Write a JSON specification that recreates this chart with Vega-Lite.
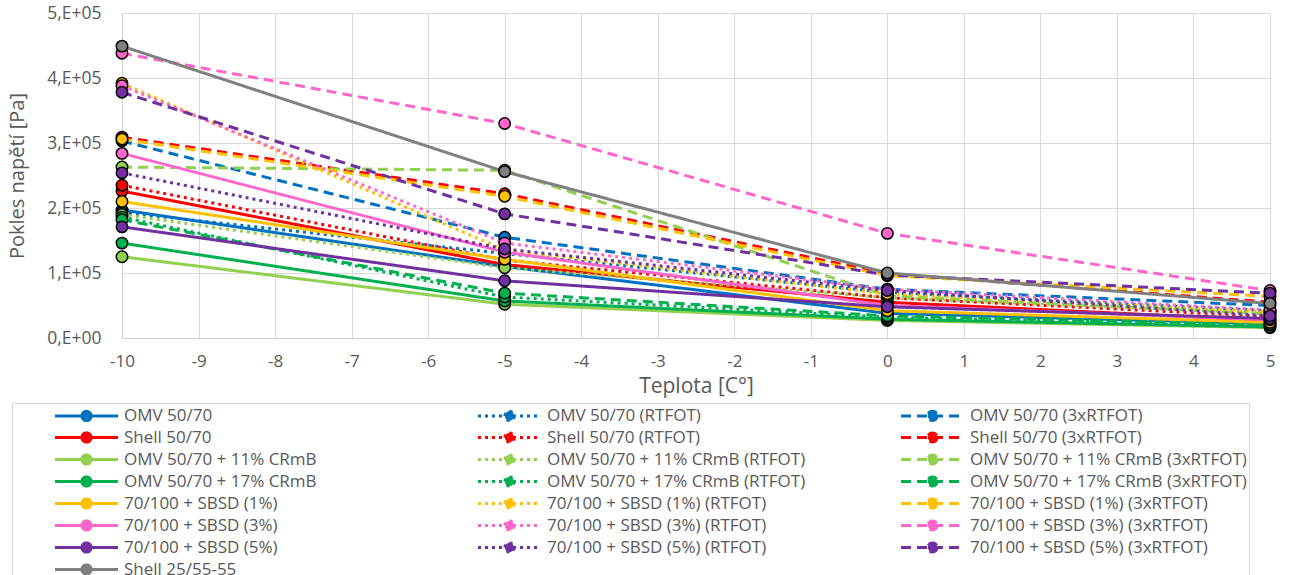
{
  "$schema": "https://vega.github.io/schema/vega-lite/v6.json",
  "width": 1148,
  "height": 325,
  "autosize": {"type": "none"},
  "padding": {"left": 122, "top": 13, "right": 21, "bottom": 237},
  "background": "white",
  "config": {
    "view": {"stroke": null},
    "font": "Open Sans",
    "axis": {"labelColor": "#595959", "titleColor": "#595959", "labelFont": "Open Sans", "titleFont": "Open Sans", "titleFontWeight": "normal", "gridColor": "#d9d9d9", "domainColor": "#d0d0d0", "ticks": false}
  },
  "data": {"values": [
    {"s": "OMV 50/70", "t": -10, "v": 197000}, {"s": "OMV 50/70", "t": -5, "v": 110000}, {"s": "OMV 50/70", "t": 0, "v": 38000}, {"s": "OMV 50/70", "t": 5, "v": 22000},
    {"s": "OMV 50/70 (RTFOT)", "t": -10, "v": 193000}, {"s": "OMV 50/70 (RTFOT)", "t": -5, "v": 130000}, {"s": "OMV 50/70 (RTFOT)", "t": 0, "v": 70000}, {"s": "OMV 50/70 (RTFOT)", "t": 5, "v": 42000},
    {"s": "OMV 50/70 (3xRTFOT)", "t": -10, "v": 303000}, {"s": "OMV 50/70 (3xRTFOT)", "t": -5, "v": 155000}, {"s": "OMV 50/70 (3xRTFOT)", "t": 0, "v": 75000}, {"s": "OMV 50/70 (3xRTFOT)", "t": 5, "v": 50000},
    {"s": "Shell 50/70", "t": -10, "v": 226000}, {"s": "Shell 50/70", "t": -5, "v": 113000}, {"s": "Shell 50/70", "t": 0, "v": 55000}, {"s": "Shell 50/70", "t": 5, "v": 27000},
    {"s": "Shell 50/70 (RTFOT)", "t": -10, "v": 235000}, {"s": "Shell 50/70 (RTFOT)", "t": -5, "v": 120000}, {"s": "Shell 50/70 (RTFOT)", "t": 0, "v": 62000}, {"s": "Shell 50/70 (RTFOT)", "t": 5, "v": 33000},
    {"s": "Shell 50/70 (3xRTFOT)", "t": -10, "v": 309000}, {"s": "Shell 50/70 (3xRTFOT)", "t": -5, "v": 222000}, {"s": "Shell 50/70 (3xRTFOT)", "t": 0, "v": 99000}, {"s": "Shell 50/70 (3xRTFOT)", "t": 5, "v": 55000},
    {"s": "OMV 50/70 + 11% CRmB", "t": -10, "v": 125000}, {"s": "OMV 50/70 + 11% CRmB", "t": -5, "v": 52000}, {"s": "OMV 50/70 + 11% CRmB", "t": 0, "v": 27000}, {"s": "OMV 50/70 + 11% CRmB", "t": 5, "v": 16000},
    {"s": "OMV 50/70 + 11% CRmB (RTFOT)", "t": -10, "v": 190000}, {"s": "OMV 50/70 + 11% CRmB (RTFOT)", "t": -5, "v": 108000}, {"s": "OMV 50/70 + 11% CRmB (RTFOT)", "t": 0, "v": 62000}, {"s": "OMV 50/70 + 11% CRmB (RTFOT)", "t": 5, "v": 38000},
    {"s": "OMV 50/70 + 11% CRmB (3xRTFOT)", "t": -10, "v": 263000}, {"s": "OMV 50/70 + 11% CRmB (3xRTFOT)", "t": -5, "v": 258000}, {"s": "OMV 50/70 + 11% CRmB (3xRTFOT)", "t": 0, "v": 65000}, {"s": "OMV 50/70 + 11% CRmB (3xRTFOT)", "t": 5, "v": 37000},
    {"s": "OMV 50/70 + 17% CRmB", "t": -10, "v": 146000}, {"s": "OMV 50/70 + 17% CRmB", "t": -5, "v": 57000}, {"s": "OMV 50/70 + 17% CRmB", "t": 0, "v": 29000}, {"s": "OMV 50/70 + 17% CRmB", "t": 5, "v": 17000},
    {"s": "OMV 50/70 + 17% CRmB (RTFOT)", "t": -10, "v": 186000}, {"s": "OMV 50/70 + 17% CRmB (RTFOT)", "t": -5, "v": 63000}, {"s": "OMV 50/70 + 17% CRmB (RTFOT)", "t": 0, "v": 32000}, {"s": "OMV 50/70 + 17% CRmB (RTFOT)", "t": 5, "v": 20000},
    {"s": "OMV 50/70 + 17% CRmB (3xRTFOT)", "t": -10, "v": 182000}, {"s": "OMV 50/70 + 17% CRmB (3xRTFOT)", "t": -5, "v": 69000}, {"s": "OMV 50/70 + 17% CRmB (3xRTFOT)", "t": 0, "v": 34000}, {"s": "OMV 50/70 + 17% CRmB (3xRTFOT)", "t": 5, "v": 21000},
    {"s": "70/100 + SBSD (1%)", "t": -10, "v": 210000}, {"s": "70/100 + SBSD (1%)", "t": -5, "v": 121000}, {"s": "70/100 + SBSD (1%)", "t": 0, "v": 42000}, {"s": "70/100 + SBSD (1%)", "t": 5, "v": 24000},
    {"s": "70/100 + SBSD (1%) (RTFOT)", "t": -10, "v": 392000}, {"s": "70/100 + SBSD (1%) (RTFOT)", "t": -5, "v": 135000}, {"s": "70/100 + SBSD (1%) (RTFOT)", "t": 0, "v": 68000}, {"s": "70/100 + SBSD (1%) (RTFOT)", "t": 5, "v": 40000},
    {"s": "70/100 + SBSD (1%) (3xRTFOT)", "t": -10, "v": 306000}, {"s": "70/100 + SBSD (1%) (3xRTFOT)", "t": -5, "v": 218000}, {"s": "70/100 + SBSD (1%) (3xRTFOT)", "t": 0, "v": 96000}, {"s": "70/100 + SBSD (1%) (3xRTFOT)", "t": 5, "v": 64000},
    {"s": "70/100 + SBSD (3%)", "t": -10, "v": 284000}, {"s": "70/100 + SBSD (3%)", "t": -5, "v": 132000}, {"s": "70/100 + SBSD (3%)", "t": 0, "v": 50000}, {"s": "70/100 + SBSD (3%)", "t": 5, "v": 28000},
    {"s": "70/100 + SBSD (3%) (RTFOT)", "t": -10, "v": 388000}, {"s": "70/100 + SBSD (3%) (RTFOT)", "t": -5, "v": 146000}, {"s": "70/100 + SBSD (3%) (RTFOT)", "t": 0, "v": 75000}, {"s": "70/100 + SBSD (3%) (RTFOT)", "t": 5, "v": 43000},
    {"s": "70/100 + SBSD (3%) (3xRTFOT)", "t": -10, "v": 438000}, {"s": "70/100 + SBSD (3%) (3xRTFOT)", "t": -5, "v": 330000}, {"s": "70/100 + SBSD (3%) (3xRTFOT)", "t": 0, "v": 161000}, {"s": "70/100 + SBSD (3%) (3xRTFOT)", "t": 5, "v": 73000},
    {"s": "70/100 + SBSD (5%)", "t": -10, "v": 171000}, {"s": "70/100 + SBSD (5%)", "t": -5, "v": 88000}, {"s": "70/100 + SBSD (5%)", "t": 0, "v": 48000}, {"s": "70/100 + SBSD (5%)", "t": 5, "v": 30000},
    {"s": "70/100 + SBSD (5%) (RTFOT)", "t": -10, "v": 254000}, {"s": "70/100 + SBSD (5%) (RTFOT)", "t": -5, "v": 137000}, {"s": "70/100 + SBSD (5%) (RTFOT)", "t": 0, "v": 73000}, {"s": "70/100 + SBSD (5%) (RTFOT)", "t": 5, "v": 34000},
    {"s": "70/100 + SBSD (5%) (3xRTFOT)", "t": -10, "v": 378000}, {"s": "70/100 + SBSD (5%) (3xRTFOT)", "t": -5, "v": 191000}, {"s": "70/100 + SBSD (5%) (3xRTFOT)", "t": 0, "v": 97000}, {"s": "70/100 + SBSD (5%) (3xRTFOT)", "t": 5, "v": 69000},
    {"s": "Shell 25/55-55", "t": -10, "v": 449000}, {"s": "Shell 25/55-55", "t": -5, "v": 256000}, {"s": "Shell 25/55-55", "t": 0, "v": 100000}, {"s": "Shell 25/55-55", "t": 5, "v": 53000}
  ]},
  "encoding": {
    "x": {"field": "t", "type": "quantitative", "scale": {"domain": [-10, 5], "nice": false, "zero": false},
      "axis": {"title": "Teplota [C°]", "values": [-10,-9,-8,-7,-6,-5,-4,-3,-2,-1,0,1,2,3,4,5], "labelExpr": "'' + datum.value", "labelFontSize": 17, "labelPadding": 15, "titleFontSize": 21, "titlePadding": 6, "labelFlush": false, "labelOverlap": false}},
    "y": {"field": "v", "type": "quantitative", "scale": {"domain": [0, 500000], "nice": false},
      "axis": {"title": "Pokles napětí [Pa]", "values": [0, 100000, 200000, 300000, 400000, 500000], "labelExpr": "datum.value == 0 ? '0,E+00' : (datum.value / 100000) + ',E+05'", "labelFontSize": 17.5, "labelPadding": 21, "titleFontSize": 20, "titleX": -95, "labelFlush": false}}
  },
  "layer": [
    {
      "mark": {"type": "line", "strokeWidth": 3, "strokeCap": "butt"},
      "encoding": {
        "stroke": {"field": "s", "type": "nominal",
          "scale": {"domain": ["OMV 50/70", "OMV 50/70 (RTFOT)", "OMV 50/70 (3xRTFOT)", "Shell 50/70", "Shell 50/70 (RTFOT)", "Shell 50/70 (3xRTFOT)", "OMV 50/70 + 11% CRmB", "OMV 50/70 + 11% CRmB (RTFOT)", "OMV 50/70 + 11% CRmB (3xRTFOT)", "OMV 50/70 + 17% CRmB", "OMV 50/70 + 17% CRmB (RTFOT)", "OMV 50/70 + 17% CRmB (3xRTFOT)", "70/100 + SBSD (1%)", "70/100 + SBSD (1%) (RTFOT)", "70/100 + SBSD (1%) (3xRTFOT)", "70/100 + SBSD (3%)", "70/100 + SBSD (3%) (RTFOT)", "70/100 + SBSD (3%) (3xRTFOT)", "70/100 + SBSD (5%)", "70/100 + SBSD (5%) (RTFOT)", "70/100 + SBSD (5%) (3xRTFOT)", "Shell 25/55-55"],
            "range": ["#0070C0", "#0070C0", "#0070C0", "#FF0000", "#FF0000", "#FF0000", "#92D050", "#92D050", "#92D050", "#00B050", "#00B050", "#00B050", "#FFC000", "#FFC000", "#FFC000", "#FF66CC", "#FF66CC", "#FF66CC", "#7030A0", "#7030A0", "#7030A0", "#808080"]},
          "legend": {"title": null, "orient": "none", "direction": "horizontal", "legendX": -110, "legendY": 390, "columns": 3, "gridAlign": "all", "columnPadding": 36, "rowPadding": -3.5, "padding": 2, "strokeColor": "#d9d9d9", "symbolType": "M-3.5,0H3.5M0.51,0A0.51,0.51,0,1,1,-0.51,0A0.51,0.51,0,1,1,0.51,0Z", "symbolSize": 324, "symbolOffset": 62, "labelOffset": 27, "symbolStrokeWidth": 3, "labelFontSize": 17, "labelColor": "#595959", "labelFont": "Open Sans", "labelLimit": 400}},
        "strokeDash": {"field": "s", "type": "nominal",
          "scale": {"domain": ["OMV 50/70", "OMV 50/70 (RTFOT)", "OMV 50/70 (3xRTFOT)", "Shell 50/70", "Shell 50/70 (RTFOT)", "Shell 50/70 (3xRTFOT)", "OMV 50/70 + 11% CRmB", "OMV 50/70 + 11% CRmB (RTFOT)", "OMV 50/70 + 11% CRmB (3xRTFOT)", "OMV 50/70 + 17% CRmB", "OMV 50/70 + 17% CRmB (RTFOT)", "OMV 50/70 + 17% CRmB (3xRTFOT)", "70/100 + SBSD (1%)", "70/100 + SBSD (1%) (RTFOT)", "70/100 + SBSD (1%) (3xRTFOT)", "70/100 + SBSD (3%)", "70/100 + SBSD (3%) (RTFOT)", "70/100 + SBSD (3%) (3xRTFOT)", "70/100 + SBSD (5%)", "70/100 + SBSD (5%) (RTFOT)", "70/100 + SBSD (5%) (3xRTFOT)", "Shell 25/55-55"],
            "range": [[1,0],[3,4],[10,6],[1,0],[3,4],[10,6],[1,0],[3,4],[10,6],[1,0],[3,4],[10,6],[1,0],[3,4],[10,6],[1,0],[3,4],[10,6],[1,0],[3,4],[10,6],[1,0]]},
          "legend": {"title": null, "orient": "none", "direction": "horizontal", "legendX": -110, "legendY": 390, "columns": 3, "gridAlign": "all", "columnPadding": 36, "rowPadding": -3.5, "padding": 2, "strokeColor": "#d9d9d9", "symbolType": "M-3.5,0H3.5M0.51,0A0.51,0.51,0,1,1,-0.51,0A0.51,0.51,0,1,1,0.51,0Z", "symbolSize": 324, "symbolOffset": 62, "labelOffset": 27, "symbolStrokeWidth": 3, "labelFontSize": 17, "labelColor": "#595959", "labelFont": "Open Sans", "labelLimit": 400}}
      }
    },
    {
      "mark": {"type": "point", "filled": true, "size": 130, "stroke": "black", "strokeWidth": 1.5, "opacity": 1},
      "encoding": {
        "fill": {"field": "s", "type": "nominal",
          "scale": {"domain": ["OMV 50/70", "OMV 50/70 (RTFOT)", "OMV 50/70 (3xRTFOT)", "Shell 50/70", "Shell 50/70 (RTFOT)", "Shell 50/70 (3xRTFOT)", "OMV 50/70 + 11% CRmB", "OMV 50/70 + 11% CRmB (RTFOT)", "OMV 50/70 + 11% CRmB (3xRTFOT)", "OMV 50/70 + 17% CRmB", "OMV 50/70 + 17% CRmB (RTFOT)", "OMV 50/70 + 17% CRmB (3xRTFOT)", "70/100 + SBSD (1%)", "70/100 + SBSD (1%) (RTFOT)", "70/100 + SBSD (1%) (3xRTFOT)", "70/100 + SBSD (3%)", "70/100 + SBSD (3%) (RTFOT)", "70/100 + SBSD (3%) (3xRTFOT)", "70/100 + SBSD (5%)", "70/100 + SBSD (5%) (RTFOT)", "70/100 + SBSD (5%) (3xRTFOT)", "Shell 25/55-55"],
            "range": ["#0070C0", "#0070C0", "#0070C0", "#FF0000", "#FF0000", "#FF0000", "#92D050", "#92D050", "#92D050", "#00B050", "#00B050", "#00B050", "#FFC000", "#FFC000", "#FFC000", "#FF66CC", "#FF66CC", "#FF66CC", "#7030A0", "#7030A0", "#7030A0", "#808080"]},
          "legend": {"title": null, "orient": "none", "direction": "horizontal", "legendX": -110, "legendY": 390, "columns": 3, "gridAlign": "all", "columnPadding": 36, "rowPadding": -3.5, "padding": 2, "strokeColor": "#d9d9d9", "symbolType": "M-3.5,0H3.5M0.51,0A0.51,0.51,0,1,1,-0.51,0A0.51,0.51,0,1,1,0.51,0Z", "symbolSize": 324, "symbolOffset": 62, "labelOffset": 27, "symbolStrokeWidth": 3, "labelFontSize": 17, "labelColor": "#595959", "labelFont": "Open Sans", "labelLimit": 400}}
      }
    }
  ]
}
